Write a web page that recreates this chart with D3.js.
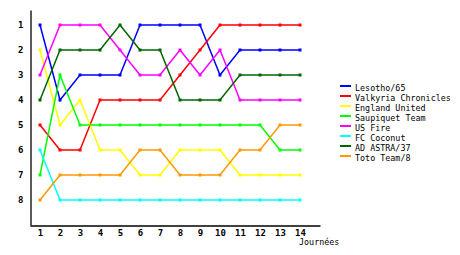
<!DOCTYPE html>
<meta charset="utf-8">
<style>
body { margin: 0; background: #fff; }
text { font-family: "DejaVu Sans Mono", monospace; fill: #000; }
.axis text { font-size: 9px; }
.legend text { font-size: 8.4px; }
.line { fill: none; stroke-width: 1.5px; }
</style>
<svg width="460" height="255"></svg>
<script src="https://cdn.jsdelivr.net/npm/d3@7"></script>
<script>

var days = [1, 2, 3, 4, 5, 6, 7, 8, 9, 10, 11, 12, 13, 14];
var teams = ["Lesotho/65", "Valkyria Chronicles", "England United", "Saupiquet Team",
             "US Fire", "FC Coconut", "AD ASTRA/37", "Toto Team/8"];
var colors = ["#0000ff", "#ff0000", "#ffff00", "#00ff00", "#ff00ff", "#00ffff", "#006600", "#ff9900"];

var lesotho   = [1, 4, 3, 3, 3, 1, 1, 1, 1, 3, 2, 2, 2, 2];
var valkyria  = [5, 6, 6, 4, 4, 4, 4, 3, 2, 1, 1, 1, 1, 1];
var england   = [2, 5, 4, 6, 6, 7, 7, 6, 6, 6, 7, 7, 7, 7];
var saupiquet = [7, 3, 5, 5, 5, 5, 5, 5, 5, 5, 5, 5, 6, 6];
var usFire    = [3, 1, 1, 1, 2, 3, 3, 2, 3, 2, 4, 4, 4, 4];
var coconut   = [6, 8, 8, 8, 8, 8, 8, 8, 8, 8, 8, 8, 8, 8];
var adAstra   = [4, 2, 2, 2, 1, 2, 2, 4, 4, 4, 3, 3, 3, 3];
var toto      = [8, 7, 7, 7, 7, 6, 6, 7, 7, 7, 6, 6, 5, 5];

var ranks = [1, 2, 3, 4, 5, 6, 7, 8];
var series = [lesotho, valkyria, england, saupiquet, usFire, coconut, adAstra, toto];

var svg = d3.select("svg");

var x = d3.scaleLinear().domain([0.5, 15]).range([30, 320]);
var y = d3.scaleLinear().domain([0.4, 9]).range([10, 225]);

svg.append("g")
    .attr("class", "axis")
    .attr("transform", "translate(0,225.5)")
    .call(d3.axisBottom(x).tickValues(days).tickSize(0).tickSizeOuter(0).tickPadding(4).tickFormat(d3.format("d")))
    .call(function(g) { g.select(".domain").attr("stroke", "#000").attr("stroke-width", 1.3); });

svg.append("g")
    .attr("class", "axis")
    .attr("transform", "translate(30.5,0)")
    .call(d3.axisLeft(y).tickValues(ranks).tickSize(0).tickSizeOuter(0).tickPadding(7).tickFormat(d3.format("d")))
    .call(function(g) { g.select(".domain").attr("stroke", "#000").attr("stroke-width", 1.3); });

svg.selectAll(".axis text").attr("font-weight", "bold");
svg.selectAll(".axis").attr("font-family", null).attr("font-size", null);

svg.append("text")
    .attr("x", 299)
    .attr("y", 245)
    .attr("font-size", "8.4px")
    .text("Journées");

var line = d3.line()
    .x(function(d, i) { return x(days[i]); })
    .y(function(d) { return y(d); });

series.forEach(function(s, k) {
  svg.append("path")
      .datum(s)
      .attr("class", "line")
      .attr("stroke", colors[k])
      .attr("d", line);

  svg.selectAll(null)
      .data(s)
      .enter().append("rect")
      .attr("x", function(d, i) { return x(days[i]) - 1.5; })
      .attr("y", function(d) { return y(d) - 1.5; })
      .attr("width", 3)
      .attr("height", 3)
      .attr("fill", colors[k]);
});

var legend = svg.append("g").attr("class", "legend");

teams.forEach(function(t, k) {
  legend.append("rect")
      .attr("x", 340)
      .attr("y", 85 + k * 10)
      .attr("width", 11)
      .attr("height", 2)
      .attr("fill", colors[k]);
  legend.append("text")
      .attr("x", 355)
      .attr("y", 91 + k * 10)
      .text(t);
});

</script>
